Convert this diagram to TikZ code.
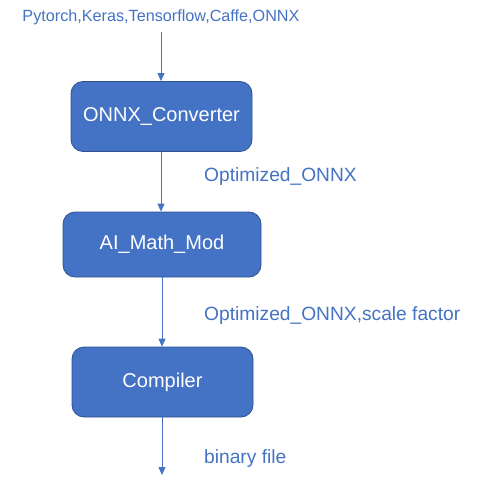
\documentclass[tikz,border=0pt]{standalone}
\usepackage{fontspec}
\setmainfont{Liberation Sans}
\usetikzlibrary{arrows.meta}
\definecolor{boxfill}{HTML}{4472C4}
\definecolor{boxedge}{HTML}{2F528F}
\definecolor{labelblue}{HTML}{4472C4}
\tikzset{
  procbox/.style={draw=boxedge, line width=0.8pt, fill=boxfill, rounded corners=12pt,
    text=white, font=\fontsize{20}{23}\selectfont, inner sep=0pt},
  flowlabel/.style={text=labelblue, font=\fontsize{19.2}{22}\selectfont, inner sep=0pt, anchor=west},
  toplabel/.style={text=labelblue, font=\fontsize{16.2}{19}\selectfont, inner sep=0pt},
  flowarrow/.style={draw=labelblue, line width=0.8pt, -{Triangle[length=8pt,width=7pt]}}
}
\begin{document}
\begin{tikzpicture}[x=1pt,y=-1pt]
\useasboundingbox (0,0) rectangle (477,495);
\node[toplabel] (src) at (161,17) {Pytorch,Keras,Tensorflow,Caffe,ONNX};
\node[procbox, minimum width=181pt, minimum height=70pt] (conv) at (161.5,116.5) {ONNX\_Converter};
\node[procbox, minimum width=198pt, minimum height=65pt] (math) at (162,244.5) {AI\_Math\_Mod};
\node[procbox, minimum width=181pt, minimum height=70pt] (comp) at (162.5,382) {Compiler};
\coordinate (srcbot) at (161,32);
\coordinate (out) at (162,475);
\node[flowlabel] (l1) at (204,177) {Optimized\_ONNX};
\node[flowlabel] (l2) at (204,316) {Optimized\_ONNX,scale factor};
\node[flowlabel] (l3) at (204,459) {binary file};
\draw[flowarrow] (srcbot) -- (srcbot |- conv.north);
\draw[flowarrow] (conv.south -| 161,0) -- (161,0 |- math.north);
\draw[flowarrow] (math.south -| 162,0) -- (162,0 |- comp.north);
\draw[flowarrow] (comp.south -| out) -- (out);
\end{tikzpicture}
\end{document}
